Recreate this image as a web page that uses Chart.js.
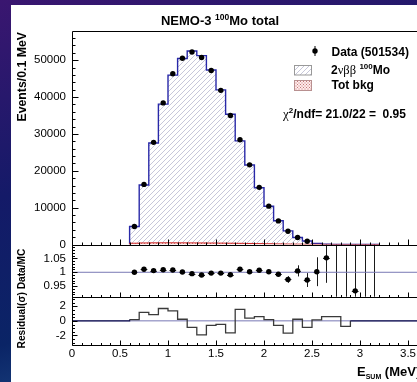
<!DOCTYPE html>
<html>
<head>
<meta charset="utf-8">
<script src="https://cdn.jsdelivr.net/npm/chart.js@4.4.1/dist/chart.umd.min.js"></script>
<style>
  html, body { margin: 0; padding: 0; }
  body { width: 417px; height: 382px; overflow: hidden; position: relative;
    background: linear-gradient(165deg, #3a1670 0%, #141a68 40%, #0a2466 70%, #2a5e96 100%); }
  #sheet { position: absolute; left: 11px; top: 5px; width: 460px; height: 400px; background: #fff; }
  #wrap { position: absolute; left: 0; top: 0; width: 460px; height: 382px; }
</style>
</head>
<body>
<div id="sheet"></div>
<div id="wrap"><canvas id="c"></canvas></div>
<script>
// bins of 0.1 MeV
const binCenters = [0.65, 0.75, 0.85, 0.95, 1.05, 1.15, 1.25, 1.35, 1.45, 1.55, 1.65, 1.75, 1.85,
  1.95, 2.05, 2.15, 2.25, 2.35, 2.45, 2.55, 2.65, 2.75, 2.85, 2.95, 3.05, 3.15];
const dataCounts = [4900, 16300, 27700, 38400, 46300, 50500, 52200, 50700, 47200, 41800, 35000,
  28400, 21600, 15500, 10400, 6400, 3600, 1900, 900];
const mcCounts = [4900, 16120, 27530, 38060, 45930, 50450, 52460, 51210, 47340, 41930, 35320,
  28090, 21560, 15390, 10380, 6450, 3700, 1890, 930, 300, 95, 30, 10, 4, 2, 1];
const bkgCounts = [350, 420, 450, 460, 460, 450, 440, 420, 400, 380, 350, 320, 280, 240, 200,
  160, 120, 90, 60, 40, 25, 15, 8, 4, 2, 1];
const ratioVals = [1.000, 1.011, 1.006, 1.009, 1.008, 1.001, 0.995, 0.990, 0.997, 0.997, 0.991,
  1.011, 1.002, 1.007, 1.002, 0.993, 0.974, 1.005, 0.972, 1.002, 1.052, 0.70, 0.75, 0.933, 1.25, 0.50];
const ratioErrs = [0.004, 0.003, 0.002, 0.002, 0.002, 0.002, 0.002, 0.002, 0.002, 0.002, 0.002,
  0.003, 0.003, 0.004, 0.005, 0.006, 0.012, 0.02, 0.025, 0.052, 0.09, 0.45, 0.338, 0.5, 0.9, 1.0];
const residuals = [0.17, 1.16, 0.84, 1.69, 1.37, 0.22, -0.89, -1.91, -0.62, -0.49, -1.64, 1.56,
  0.36, 0.57, 0.17, -0.62, -1.69, 0.22, -0.89, 0.13, 0.57, 0.57, -0.76, 0, 0, 0];

const xTicks = [0, 0.5, 1, 1.5, 2, 2.5, 3, 3.5];
const yTicks = [0, 10000, 20000, 30000, 40000, 50000];
const ratioTicks = [0.95, 1, 1.05];
const resTicks = [-2, 0, 2];

const FONT = '"Liberation Sans", Arial, sans-serif';
const B = s => `bold ${s}px ${FONT}`;
const S = s => `${s}px "Liberation Serif", serif`;

function makePattern(size, draw) {
  const c = document.createElement('canvas');
  c.width = c.height = size;
  const g = c.getContext('2d');
  draw(g);
  return g.createPattern(c, 'repeat');
}
const hatch = makePattern(5, g => {
  g.strokeStyle = 'rgba(120,120,165,0.6)';
  g.lineWidth = 0.7;
  g.beginPath();
  g.moveTo(-1, 6); g.lineTo(6, -1);
  g.stroke();
});
const checker = makePattern(3, g => {
  g.fillStyle = 'rgba(255,235,235,1)';
  g.fillRect(0, 0, 3, 3);
  g.fillStyle = 'rgba(190,110,110,0.9)';
  g.fillRect(0, 0, 1, 1);
  g.fillRect(1.5, 1.5, 1, 1);
});

// histogram -> step points (value applies from low edge to next edge)
function stepPoints(vals, start, end) {
  const pts = [];
  if (start !== undefined) pts.push({ x: start, y: 0 });
  pts.push({ x: binCenters[0] - 0.05, y: 0 });
  vals.forEach((v, i) => pts.push({ x: +(binCenters[i] - 0.05).toFixed(2), y: v }));
  pts.push({ x: +(binCenters[vals.length - 1] + 0.05).toFixed(2), y: 0 });
  if (end !== undefined) pts.push({ x: end, y: 0 });
  return pts;
}

const RMIN = 0.912, RMAX = 1.1;

function richText(ctx, parts, x, y, align) {
  let w = 0;
  parts.forEach(p => { ctx.font = p[1]; w += ctx.measureText(p[0]).width; });
  let cx = align === 'center' ? x - w / 2 : x;
  ctx.textAlign = 'left';
  ctx.textBaseline = 'alphabetic';
  parts.forEach(p => {
    ctx.font = p[1];
    ctx.fillText(p[0], cx, y + (p[2] || 0));
    cx += ctx.measureText(p[0]).width;
  });
}

const rootStyle = {
  id: 'rootStyle',
  beforeDatasetsDraw(chart) {
    const ctx = chart.ctx, x = chart.scales.x, yr = chart.scales.yr;
    ctx.save();
    ctx.beginPath();
    ctx.rect(x.left, yr.top, x.right - x.left, yr.bottom - yr.top);
    ctx.clip();
    ctx.strokeStyle = '#1a1a1a';
    ctx.lineWidth = 1;
    ratioVals.forEach((r, i) => {
      const px = Math.round(x.getPixelForValue(binCenters[i])) + 0.5;
      ctx.beginPath();
      ctx.moveTo(px, yr.getPixelForValue(r - ratioErrs[i]));
      ctx.lineTo(px, yr.getPixelForValue(r + ratioErrs[i]));
      if (r >= RMIN && r <= RMAX) {
        const py = Math.round(yr.getPixelForValue(r)) + 0.5;
        ctx.moveTo(x.getPixelForValue(binCenters[i] - 0.035), py);
        ctx.lineTo(x.getPixelForValue(binCenters[i] + 0.035), py);
      }
      ctx.stroke();
    });
    ctx.restore();
  },
  afterDatasetsDraw(chart) {
    const ctx = chart.ctx, x = chart.scales.x;
    const panels = [
      { s: chart.scales.y, major: yTicks, minor: 2000, len: [6, 3] },
      { s: chart.scales.yr, major: ratioTicks, minor: 0.01, len: [5, 2.5] },
      { s: chart.scales.yres, major: resTicks, minor: 0.5, len: [5, 2.5] }
    ];
    ctx.save();
    ctx.strokeStyle = '#000';
    ctx.lineWidth = 1;
    const L = Math.round(x.left) + 0.5, R = x.right;
    panels.forEach(p => {
      const s = p.s;
      const top = Math.round(s.top) + 0.5, bot = Math.round(s.bottom) + 0.5;
      ctx.beginPath();
      ctx.rect(L, top, R - L + 5, bot - top);
      // x ticks on the bottom edge, pointing up
      for (let i = 0; i <= 40; i++) {
        const px = Math.round(x.getPixelForValue(i / 10)) + 0.5;
        const len = i % 5 === 0 ? p.len[0] : p.len[1];
        ctx.moveTo(px, bot); ctx.lineTo(px, bot - len);
      }
      // y ticks on the left edge, pointing right
      for (let v = Math.ceil(s.min / p.minor) * p.minor; v <= s.max; v += p.minor) {
        const vv = +v.toFixed(4);
        const py = Math.round(s.getPixelForValue(vv)) + 0.5;
        const isMajor = p.major.some(m => Math.abs(m - vv) < 1e-6);
        ctx.moveTo(L, py); ctx.lineTo(L + (isMajor ? p.len[0] : p.len[1]), py);
      }
      ctx.stroke();
    });
    ctx.restore();
  },
  afterDraw(chart) {
    const ctx = chart.ctx;
    ctx.save();
    ctx.fillStyle = '#000';
    // title
    richText(ctx, [['NEMO-3 ', B(13)], ['100', B(8.5), -5], ['Mo total', B(13)]], 220, 25, 'center');
    // legend
    ctx.beginPath();
    ctx.arc(315, 51, 2.7, 0, Math.PI * 2);
    ctx.fill();
    ctx.fillRect(314.5, 46, 1, 10);
    richText(ctx, [['Data (501534)', B(12)]], 331.5, 55.5);
    ctx.fillStyle = '#fff';
    ctx.fillRect(294.5, 65.5, 17, 9.5);
    ctx.fillStyle = hatch;
    ctx.fillRect(294.5, 65.5, 17, 9.5);
    ctx.strokeStyle = '#999';
    ctx.lineWidth = 1;
    ctx.strokeRect(294.5, 65.5, 17, 9.5);
    ctx.fillStyle = checker;
    ctx.fillRect(294.5, 80.5, 17, 10);
    ctx.strokeStyle = '#b89090';
    ctx.strokeRect(294.5, 80.5, 17, 10);
    ctx.fillStyle = '#000';
    richText(ctx, [['2', B(12)], ['\u03bd\u03b2\u03b2', S(12.5)], [' ', B(12)], ['100', B(8), -5], ['Mo', B(12)]], 331, 73.5);
    richText(ctx, [['Tot bkg', B(12)]], 331.5, 89);
    richText(ctx, [['\u03c7', S(13)], ['2', B(8), -5], ['/ndf= 21.0/22 =  0.95', B(12)]], 283, 118);
    // axis titles
    ctx.save();
    ctx.translate(25.5, 32);
    ctx.rotate(-Math.PI / 2);
    ctx.font = B(12.3);
    ctx.textAlign = 'right';
    ctx.fillText('Events/0.1 MeV', 0, 0);
    ctx.restore();
    ctx.save();
    ctx.translate(24.5, 298.5);
    ctx.rotate(-Math.PI / 2);
    ctx.font = B(10.2);
    ctx.textAlign = 'center';
    ctx.fillText('Residual(\u03c3) Data/MC', 0, 0);
    ctx.restore();
    richText(ctx, [['E', B(13)], ['SUM', B(7), 3], [' (MeV)', B(13)]], 357, 376);
    ctx.restore();
  }
};

const fixW = s => { s.width = 56; };
const yBase = {
  type: 'linear', position: 'left', stack: 'panels',
  grid: { display: false, drawTicks: false }, border: { display: false },
  afterFit: fixW,
  ticks: { color: '#000', font: { family: FONT, size: 11.5 }, padding: 6, autoSkip: false, callback: v => String(v) }
};

new Chart(document.getElementById('c'), {
  type: 'line',
  data: {
    datasets: [
      {
        label: 'Data', type: 'scatter', yAxisID: 'y',
        data: dataCounts.map((v, i) => ({ x: binCenters[i], y: v })),
        pointRadius: 2.7, pointBackgroundColor: '#000', pointBorderWidth: 0
      },
      {
        label: 'Tot bkg', yAxisID: 'y', data: stepPoints(bkgCounts), stepped: 'before',
        borderColor: '#d02828', borderWidth: 1, fill: 'origin', backgroundColor: checker, pointRadius: 0
      },
      {
        label: '2vbb', yAxisID: 'y', data: stepPoints(mcCounts), stepped: 'before',
        borderColor: '#2828a8', borderWidth: 1.4, fill: 'origin', backgroundColor: hatch, pointRadius: 0
      },
      {
        label: 'ratio', type: 'scatter', yAxisID: 'yr',
        data: ratioVals.map((v, i) => ({ x: binCenters[i], y: (v >= RMIN && v <= RMAX) ? v : null })),
        pointRadius: 2.7, pointBackgroundColor: '#000', pointBorderWidth: 0
      },
      {
        label: 'ratio ref', yAxisID: 'yr', data: [{ x: 0, y: 1 }, { x: 4, y: 1 }],
        borderColor: '#7878b4', borderWidth: 1, pointRadius: 0
      },
      {
        label: 'residual', yAxisID: 'yres', data: stepPoints(residuals, 0, 4), stepped: 'before',
        borderColor: '#3a3a3a', borderWidth: 1.3, pointRadius: 0,
        segment: { borderColor: c => c.p0.parsed.y === 0 ? '#141450' : '#3a3a3a' }
      },
      {
        label: 'res ref', yAxisID: 'yres', data: [{ x: 0, y: 0 }, { x: 4, y: 0 }],
        borderColor: '#7878b4', borderWidth: 1, pointRadius: 0
      }
    ]
  },
  options: {
    responsive: true,
    maintainAspectRatio: false,
    animation: false,
    layout: { padding: { left: 16, top: 31, right: 0, bottom: 0 } },
    plugins: { legend: { display: false }, tooltip: { enabled: false } },
    scales: {
      x: {
        type: 'linear', min: 0, max: 4,
        grid: { display: false, drawTicks: false }, border: { display: false },
        afterFit: s => { s.height = 37; },
        afterBuildTicks: s => { s.ticks = xTicks.map(v => ({ value: v })); },
        ticks: { color: '#000', font: { family: FONT, size: 11.5 }, padding: 2, maxRotation: 0, autoSkip: false, callback: v => String(v) }
      },
      y: Object.assign({}, yBase, {
        min: 0, max: 57900, stackWeight: 213.5, weight: 3,
        afterBuildTicks: s => { s.ticks = yTicks.map(v => ({ value: v })); }
      }),
      yr: Object.assign({}, yBase, {
        min: RMIN, max: RMAX, stackWeight: 52.2, weight: 2,
        afterBuildTicks: s => { s.ticks = ratioTicks.map(v => ({ value: v })); }
      }),
      yres: Object.assign({}, yBase, {
        min: -3.3, max: 3.3, stackWeight: 48.3, weight: 1,
        afterBuildTicks: s => { s.ticks = resTicks.map(v => ({ value: v })); }
      })
    }
  },
  plugins: [rootStyle]
});
</script>
</body>
</html>
